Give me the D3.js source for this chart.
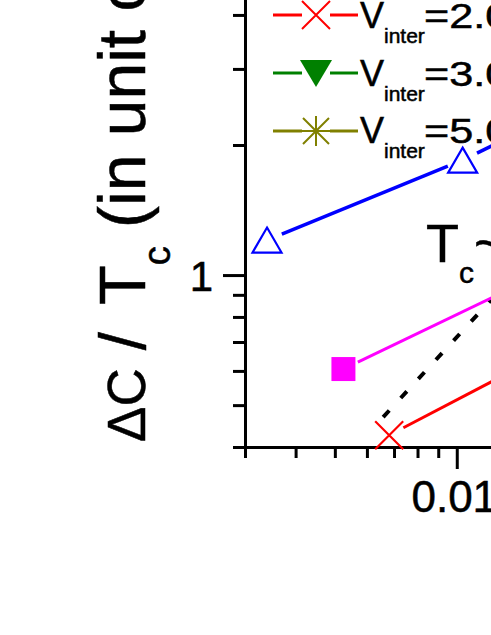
<!DOCTYPE html>
<html><head><meta charset="utf-8">
<script src="https://cdn.jsdelivr.net/npm/d3@7"></script>
<style>
body{margin:0;background:#fff;overflow:hidden}
text{font-family:"Liberation Sans",Arial,Helvetica,sans-serif;fill:#000;stroke:#000;stroke-width:0.5px}
</style>
</head><body>
<svg id="chart" width="491" height="635"></svg>
<script>
// ---- data ----
const xTickValues = [0.003,0.004,0.005,0.006,0.007,0.008,0.009,0.01,0.02,0.03];
const xMajorTicks = [0.01];
const yTickValues = [0.4,0.5,0.6,0.7,0.8,0.9,1,2,3,4,5,6,7,8,9,10];
const yMajorTicks = [1,10];
const blueX = [0.0034, 0.01034, 0.02];
const blueY = [1.205, 1.845, 2.5];
const magentaX = [0.00525, 0.015];
const magentaY = [0.606, 0.973];
const redX = [0.00681, 0.015];
const redY = [0.426, 0.627];
const fitX = [0.00658, 0.03];
const fitY = [0.469, 2.20];
const legendValues = ["2.0", "3.0", "5.0"];
const legendColors = ["#ff0000", "#008000", "#808000"];
const legendSymbols = ["cross", "triDown", "star"];

// ---- layout ----
const svg = d3.select("#chart");
const x = d3.scaleLog().domain([0.003, 0.03]).range([245, 650]);
const y = d3.scaleLog().domain([0.4, 10]).range([447, -157]);

// axes
const xAxis = d3.axisBottom(x).tickValues(xTickValues).tickSizeOuter(0)
  .tickFormat(d => xMajorTicks.includes(d) ? "0.01" : "");
const gx = svg.append("g").attr("transform", `translate(0,${y(0.4)})`).call(xAxis);
gx.selectAll(".tick line").attr("y2", d => xMajorTicks.includes(d) ? 22 : 11);
gx.selectAll(".tick text").attr("y", 0).attr("dy", 0).attr("transform", "translate(-3,65)")
  .style("font-size", "44px").style("font-family", '"Liberation Sans",Arial,sans-serif');

const yAxis = d3.axisLeft(y).tickValues(yTickValues).tickSizeOuter(0)
  .tickFormat(d => yMajorTicks.includes(d) ? String(d) : "");
const gy = svg.append("g").attr("transform", `translate(${x(0.003)},0)`).call(yAxis);
gy.selectAll(".tick line").attr("x2", d => yMajorTicks.includes(d) ? -22 : -12);
gy.selectAll(".tick text").attr("x", -32).attr("dy", "0.36em")
  .style("font-size", "42px").style("font-family", '"Liberation Sans",Arial,sans-serif');

svg.selectAll(".domain").attr("stroke", "#000").attr("stroke-width", 3);
svg.selectAll(".tick line").attr("stroke", "#000").attr("stroke-width", 3);

// y label (rotated)
const yl = svg.append("text").attr("transform", "translate(145,442) rotate(-90)");
yl.append("tspan").attr("x", 0).style("font-size", "53px").text("\u0394C");
yl.append("tspan").style("font-size", "65px").text(" /");
yl.append("tspan").attr("x", 137).style("font-size", "65px").text("T");
yl.append("tspan").style("font-size", "38px").attr("dy", 25).text("c");
yl.append("tspan").style("font-size", "66px").attr("dy", -25).text(" (in unit of k");
yl.append("tspan").style("font-size", "40px").attr("dy", 20).text("B");
yl.append("tspan").style("font-size", "66px").attr("dy", -20).text(")");

// ---- series ----
function segs(xs, ys, gap) {
  const out = [];
  for (let i = 0; i < xs.length - 1; i++) {
    const x0 = x(xs[i]), y0 = y(ys[i]), x1 = x(xs[i+1]), y1 = y(ys[i+1]);
    const L = Math.hypot(x1 - x0, y1 - y0), ux = (x1 - x0) / L, uy = (y1 - y0) / L;
    out.push([x0 + ux*gap, y0 + uy*gap, x1 - ux*gap, y1 - uy*gap]);
  }
  return out;
}
function drawLine(xs, ys, color, w) {
  svg.append("g").selectAll("line").data(segs(xs, ys, 16)).join("line")
    .attr("x1", d => d[0]).attr("y1", d => d[1]).attr("x2", d => d[2]).attr("y2", d => d[3])
    .attr("stroke", color).attr("stroke-width", w);
}
const symbolPath = {
  triUp: "M0,-12.5L14.5,12.5L-14.5,12.5Z",
  triDown: "M-16,-13L16,-13L0,14Z",
  square: "M-12,-12H12V12H-12Z",
  cross: "M-14,-14L14,14M-14,14L14,-14",
  star: "M0,-15V15M-15,0H15M-13,-13L13,13M-13,13L13,-13"
};
function drawMarkers(xs, ys, sym, color, filled) {
  svg.append("g").selectAll("path").data(xs.map((v, i) => [v, ys[i]])).join("path")
    .attr("transform", d => `translate(${x(d[0])},${y(d[1])})`)
    .attr("d", symbolPath[sym])
    .attr("fill", filled ? color : "none")
    .attr("stroke", color).attr("stroke-width", filled ? 0 : 2.2);
}

// fit line (dashed)
svg.append("path").datum(fitX.map((v, i) => [v, fitY[i]]))
  .attr("d", d3.line().x(d => x(d[0])).y(d => y(d[1])))
  .attr("stroke", "#000").attr("stroke-width", 4).attr("fill", "none")
  .attr("stroke-dasharray", "9,17");

drawLine(blueX, blueY, "#0000ff", 3.5);
drawMarkers(blueX, blueY, "triUp", "#0000ff", false);
drawLine(magentaX, magentaY, "#ff00ff", 3);
drawMarkers(magentaX, magentaY, "square", "#ff00ff", true);
drawLine(redX, redY, "#ff0000", 3);
drawMarkers(redX, redY, "cross", "#ff0000", false);

// annotation
const ann = svg.append("text").attr("x", 426).attr("y", 262);
ann.append("tspan").style("font-size", "54px").text("T");
ann.append("tspan").style("font-size", "30px").attr("dy", 21).text("c");
ann.append("tspan").style("font-size", "54px").attr("dy", -21).text("~");

// legend
const lg = svg.append("g");
legendValues.forEach((v, i) => {
  const cy = 15 + i * 58;
  const base = 28 + i * 57.5;
  lg.append("line").attr("x1", 273).attr("x2", 302).attr("y1", cy).attr("y2", cy)
    .attr("stroke", legendColors[i]).attr("stroke-width", 3);
  lg.append("line").attr("x1", 330).attr("x2", 358).attr("y1", cy).attr("y2", cy)
    .attr("stroke", legendColors[i]).attr("stroke-width", 3);
  const filled = legendSymbols[i] === "triDown";
  lg.append("path").attr("transform", `translate(316,${cy})`).attr("d", symbolPath[legendSymbols[i]])
    .attr("fill", filled ? legendColors[i] : "none").attr("stroke", legendColors[i])
    .attr("stroke-width", filled ? 0 : 2);
  const t = lg.append("text").attr("x", 360).attr("y", base);
  t.append("tspan").style("font-size", "36px").text("V");
  t.append("tspan").style("font-size", "21px").attr("dy", 15).text("inter");
  lg.append("text").attr("transform", `translate(424,${base}) scale(1.2,1)`)
    .style("font-size", "36px").text("=" + v);
});
</script>
</body></html>
